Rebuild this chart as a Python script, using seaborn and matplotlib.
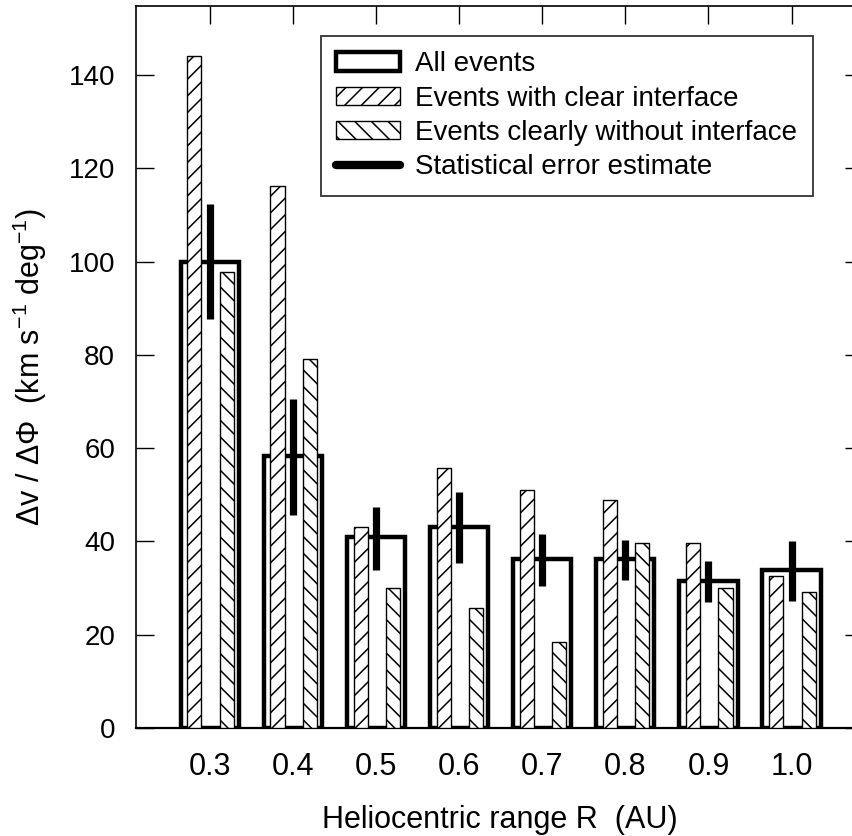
import numpy as np
import pandas as pd
import matplotlib
matplotlib.use("Agg")
import matplotlib.pyplot as plt
import seaborn as sns
from matplotlib.patches import Patch
from matplotlib.lines import Line2D

# ---- data ----
r_labels = ['0.3', '0.4', '0.5', '0.6', '0.7', '0.8', '0.9', '1.0']
all_events = [100.0, 58.3, 41.0, 43.2, 36.2, 36.2, 31.6, 33.9]
clear_interface = [144.1, 116.2, 43.0, 55.8, 51.1, 48.9, 39.6, 32.6]
without_interface = [97.7, 79.1, 30.1, 25.7, 18.5, 39.6, 30.1, 29.1]
err_center = [100.0, 58.1, 40.6, 43.0, 36.0, 36.0, 31.4, 33.7]
err_half = [12.3, 12.4, 6.7, 7.7, 5.5, 4.3, 4.3, 6.5]

sns.set_style("white")
plt.rcParams['font.family'] = ['Liberation Sans', 'DejaVu Sans']
plt.rcParams['mathtext.fontset'] = 'custom'
plt.rcParams['mathtext.rm'] = 'Liberation Sans'
plt.rcParams['mathtext.it'] = 'Liberation Sans:italic'
plt.rcParams['mathtext.bf'] = 'Liberation Sans:bold'
plt.rcParams['hatch.linewidth'] = 1.1
for k in ['text.color', 'axes.labelcolor', 'xtick.color', 'ytick.color', 'axes.edgecolor']:
    plt.rcParams[k] = 'black'

idx = np.arange(len(r_labels))
df = pd.DataFrame({
    'pos': idx,
    'all': all_events,
    'clear': clear_interface,
    'without': without_interface,
})

fig = plt.figure(figsize=(8.52, 8.36), dpi=100)
ax = fig.add_axes([136/852, 1-728/836, (863-136)/852, (728-6)/836])

# All events: thick outline, white fill
sns.barplot(x=df['pos'], y=df['all'], native_scale=True, width=0.70,
            color='white', saturation=1, edgecolor='black', linewidth=3.2,
            errorbar=None, ax=ax, zorder=2)
n0 = len(ax.patches)

# clear interface (/ hatch), left
sns.barplot(x=df['pos'] - 0.187, y=df['clear'], native_scale=True, width=0.17,
            color='white', saturation=1, edgecolor='black', linewidth=1.0,
            errorbar=None, ax=ax, zorder=3)
n1 = len(ax.patches)
for p in ax.patches[n0:n1]:
    p.set_hatch('//')

# clearly without interface (\ hatch), right
sns.barplot(x=df['pos'] + 0.205, y=df['without'], native_scale=True, width=0.17,
            color='white', saturation=1, edgecolor='black', linewidth=1.0,
            errorbar=None, ax=ax, zorder=3)
for p in ax.patches[n1:]:
    p.set_hatch('\\\\')

# statistical error estimate
ec = np.array(err_center)
eh = np.array(err_half)
ax.vlines(idx, ec - eh, ec + eh, colors='black', linewidth=5.2, zorder=4)

ax.set_xlim(-0.89, 7.86)
ax.set_ylim(0, 154.8)
ax.set_xticks(idx)
ax.set_xticklabels(r_labels)
ax.set_yticks(np.arange(0, 141, 20))

ax.tick_params(axis='x', which='major', bottom=False, top=True, direction='in',
               length=13, width=1, labelsize=22, pad=17)
ax.tick_params(axis='y', which='major', left=True, right=True, direction='in',
               length=13, width=1, labelsize=20, pad=15)
for s in ax.spines.values():
    s.set_linewidth(1.2)
    s.set_color('black')
ax.spines['bottom'].set_linewidth(1.6)

ax.set_xlabel('Heliocentric range R  (AU)', fontsize=22, labelpad=17)
ax.set_ylabel('Δv / ΔΦ  (km s$^{-1}$ deg$^{-1}$)', fontsize=22, labelpad=14)

handles = [
    Patch(facecolor='white', edgecolor='black', linewidth=3.2),
    Patch(facecolor='white', edgecolor='black', linewidth=1.0, hatch='//'),
    Patch(facecolor='white', edgecolor='black', linewidth=1.0, hatch='\\\\'),
    Line2D([0], [0], color='black', linewidth=6),
]
labels = ['All events', 'Events with clear interface',
          'Events clearly without interface', 'Statistical error estimate']
leg = ax.legend(handles, labels, loc='upper left',
                bbox_to_anchor=((321-136)/(863-136), 1-(36-6)/(728-6)),
                borderaxespad=0, fontsize=20, frameon=True, fancybox=False,
                framealpha=1, edgecolor='#333333', handlelength=2.3,
                handleheight=0.64, handletextpad=0.55, labelspacing=0.3,
                borderpad=0.55)
leg.get_frame().set_linewidth(1.3)
leg.set_zorder(10)

fig.savefig('out.png', dpi=100)
